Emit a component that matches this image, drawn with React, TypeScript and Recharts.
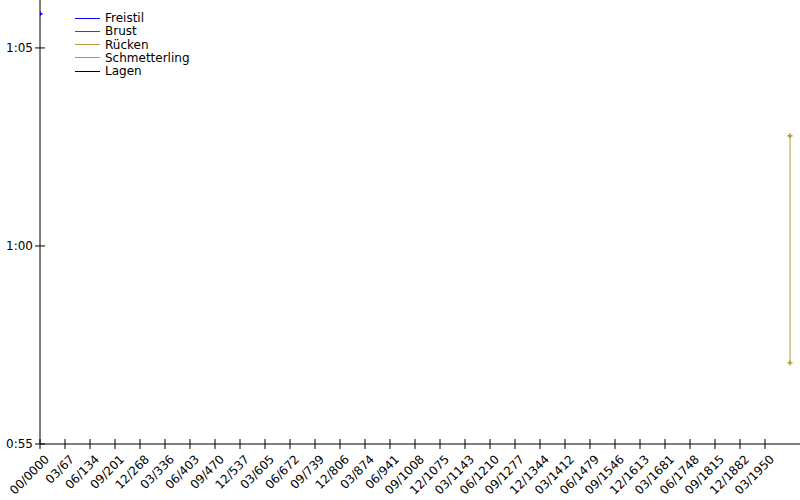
import { LineChart, Line, XAxis, YAxis } from 'recharts';

// x positions are tick indices (one tick per label), y values are seconds
const tickLabels = [
  '00/0000', '03/67', '06/134', '09/201', '12/268', '03/336', '06/403',
  '09/470', '12/537', '03/605', '06/672', '09/739', '12/806', '03/874',
  '06/941', '09/1008', '12/1075', '03/1143', '06/1210', '09/1277',
  '12/1344', '03/1412', '06/1479', '09/1546', '12/1613', '03/1681',
  '06/1748', '09/1815', '12/1882', '03/1950',
];
const timeTicks = [55, 60, 65];

const freistilX = [0];
const freistilTimes = [65.86];
const brustX: number[] = [];
const brustTimes: number[] = [];
const rueckenX = [30, 30];
const rueckenTimes = [62.78, 57.05];
const schmetterlingX: number[] = [];
const schmetterlingTimes: number[] = [];
const lagenX: number[] = [];
const lagenTimes: number[] = [];

const SERIES = [
  { name: 'Freistil', color: '#0000ff', xs: freistilX, ys: freistilTimes },
  { name: 'Brust', color: '#ff0000', xs: brustX, ys: brustTimes },
  { name: 'Rücken', color: '#b89a3c', xs: rueckenX, ys: rueckenTimes },
  { name: 'Schmetterling', color: '#00ff00', xs: schmetterlingX, ys: schmetterlingTimes },
  { name: 'Lagen', color: '#000000', xs: lagenX, ys: lagenTimes },
];

const FONT = '"DejaVu Sans", sans-serif';

const formatTime = (sec: number) => {
  const m = Math.floor(sec / 60);
  const s = Math.round(sec - m * 60);
  return `${m}:${String(s).padStart(2, '0')}`;
};

const XTick = ({ x, y, payload }: any) => (
  <g>
    <line x1={x} x2={x} y1={y - 5} y2={y + 5} stroke='#000' />
    <g transform={`translate(${x + 10},${y + 16})`}>
      <text
        x={0}
        y={0}
        textAnchor='end'
        fontSize={12}
        fontFamily={FONT}
        fill='#000'
        transform='rotate(-45)'
      >
        {tickLabels[payload.value]}
      </text>
    </g>
  </g>
);

const YTick = ({ x, y, payload }: any) => (
  <g>
    <line x1={x - 5} x2={x + 5} y1={y} y2={y} stroke='#000' />
    <text x={x - 7} y={y + 4} textAnchor='end' fontSize={12} fontFamily={FONT} fill='#000'>
      {formatTime(payload.value)}
    </text>
  </g>
);

const PlusDot = (color: string) => (props: any) => {
  const { cx, cy, index } = props;
  return (
    <path
      key={`dot-${index}`}
      d={`M${cx - 2.5},${cy}h5M${cx},${cy - 2.5}v5`}
      stroke={color}
      strokeWidth={1.6}
      fill='none'
    />
  );
};

// legend sits over the plot, so it is drawn outside the chart's layout
const LegendOverlay = () => (
  <svg width={140} height={70} style={{ position: 'absolute', left: 70, top: 10 }}>
    {SERIES.map((s, i) => {
      const y = 7.5 + i * 13.3;
      return (
        <g key={s.name}>
          <line x1={5} x2={30} y1={Math.round(y) + 0.5} y2={Math.round(y) + 0.5} stroke={s.color} />
          <text x={35} y={y + 4.5} fontSize={12} fontFamily={FONT} fill='#000'>
            {s.name}
          </text>
        </g>
      );
    })}
  </svg>
);

export default function App() {
  return (
    <div style={{ position: 'absolute', left: 0, top: 0, width: 800, height: 500, background: '#fff' }}>
      <LineChart width={800} height={500} margin={{ top: 0, right: 0, left: 0, bottom: 0 }}>
        <XAxis
          type='number'
          dataKey='x'
          domain={[0, 30.4]}
          allowDataOverflow
          ticks={tickLabels.map((_, i) => i)}
          interval={0}
          height={56}
          tickSize={0}
          tickMargin={0}
          tickLine={false}
          axisLine={{ stroke: '#000' }}
          tick={<XTick />}
        />
        <YAxis
          type='number'
          domain={[55, 66.21]}
          allowDataOverflow
          ticks={timeTicks}
          width={40}
          tickSize={0}
          tickMargin={0}
          tickLine={false}
          axisLine={{ stroke: '#000' }}
          tick={<YTick />}
        />
        {SERIES.map((s) => (
          <Line
            key={s.name}
            name={s.name}
            data={s.xs.map((x, i) => ({ x, y: s.ys[i] }))}
            dataKey='y'
            stroke={s.color}
            strokeWidth={1}
            dot={PlusDot(s.color)}
            activeDot={false}
            isAnimationActive={false}
          />
        ))}
      </LineChart>
      <LegendOverlay />
    </div>
  );
}
